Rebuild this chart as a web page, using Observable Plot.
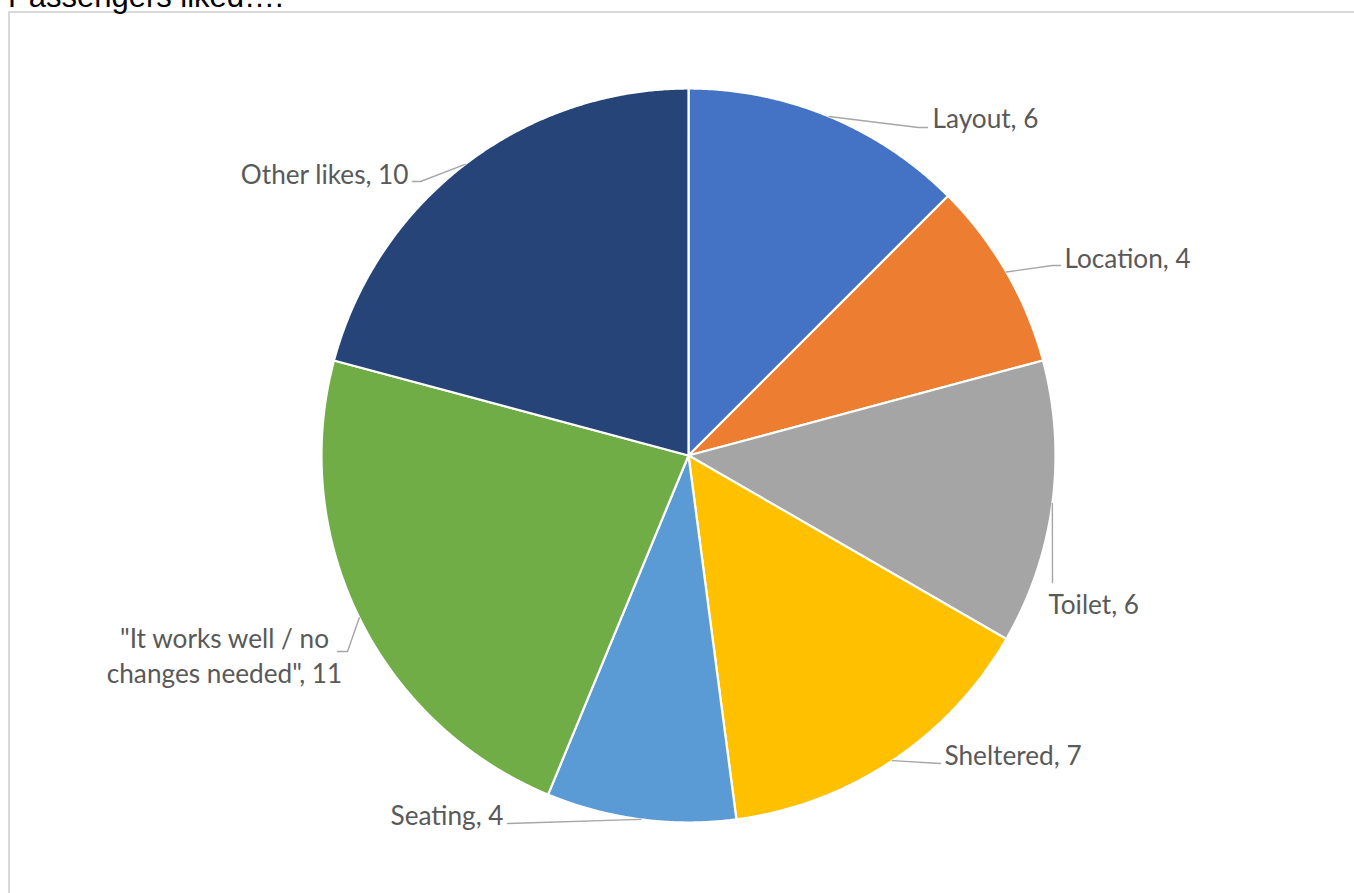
<!DOCTYPE html>
<html>
<head>
<meta charset="utf-8">
<script src="https://cdn.jsdelivr.net/npm/d3@7"></script>
<script src="https://cdn.jsdelivr.net/npm/@observablehq/plot@0.6"></script>
<style>
  html, body { margin: 0; padding: 0; background: #fff; overflow: hidden; }
  #wrap { position: relative; width: 1354px; height: 893px; overflow: hidden; }
  #frame { position: absolute; left: 8px; top: 11px; width: 1400px; height: 950px;
           border-left: 2px solid #d9d9d9; border-top: 2px solid #d9d9d9; box-sizing: border-box; }
  #title { position: absolute; left: 8px; top: -19px; font-family: "Liberation Sans", Arial, sans-serif;
           font-size: 31px; line-height: 31px; color: #000; white-space: nowrap; }
  #chart { position: absolute; left: 0; top: 0; }
</style>
</head>
<body>
<div id="wrap">
  <div id="frame"></div>
  <div id="title">Passengers liked….</div>
  <div id="chart"></div>
</div>
<script>
// ---- data ----
const categories = ["Layout", "Location", "Toilet", "Sheltered", "Seating", "\"It works well / no changes needed\"", "Other likes"];
const values = [6, 4, 6, 7, 4, 11, 10];
const labelTexts = ["Layout, 6", "Location, 4", "Toilet, 6", "Sheltered, 7", "Seating, 4", "\"It works well / no\nchanges needed\", 11", "Other likes, 10"];
const colors = ["#4472C4", "#ED7D31", "#A5A5A5", "#FFC000", "#5B9BD5", "#70AD47", "#264478"];

// ---- layout ----
const W = 1354, H = 893;
const cx = 688, cy = 455, R = 367;
// label placement (pixel layout, not data)
const labelLayout = [
  {leader: [[918, 127], [927, 127]], tx: 932, ty: 127, anchor: "start"},
  {leader: [[1052, 265], [1060, 265]], tx: 1064, ty: 267, anchor: "start"},
  {leader: [[1052, 582]], tx: 1048, ty: 613, anchor: "start"},
  {leader: [[940, 763]], tx: 944, ty: 764, anchor: "start"},
  {leader: [[507, 823]], tx: 503, ty: 824, anchor: "end"},
  {leader: [[347, 651], [337, 651]], tx: 224, ty: 682, anchor: "middle"},
  {leader: [[420, 181], [412, 181]], tx: 408, ty: 183, anchor: "end"}
];

const fontFamily = "Lato, 'Open Sans', sans-serif";
// size font so that label widths match the reference (~106px for "Layout, 6")
const ctx = document.createElement("canvas").getContext("2d");
ctx.font = `100px ${fontFamily}`;
const fontSize = Math.round(106 / ctx.measureText("Layout, 6").width * 100 * 10) / 10;

const pie = d3.pie().sort(null).value(d => d)(values);

const slicePts = [];
pie.forEach((p, i) => {
  slicePts.push({cat: categories[i], x: cx, y: cy});
  const n = Math.max(2, Math.ceil((p.endAngle - p.startAngle) / 0.005));
  for (let k = 0; k <= n; k++) {
    const a = p.startAngle + (p.endAngle - p.startAngle) * k / n;
    slicePts.push({cat: categories[i], x: cx + R * Math.sin(a), y: cy - R * Math.cos(a)});
  }
  slicePts.push({cat: categories[i], x: cx, y: cy});
});

const leaderPts = [];
pie.forEach((p, i) => {
  const a = (p.startAngle + p.endAngle) / 2;
  leaderPts.push({cat: categories[i], x: cx + R * Math.sin(a), y: cy - R * Math.cos(a)});
  labelLayout[i].leader.forEach(([x, y]) => leaderPts.push({cat: categories[i], x, y}));
});

const labels = labelTexts.map((t, i) => ({text: t, x: labelLayout[i].tx, y: labelLayout[i].ty, anchor: labelLayout[i].anchor}));

const chart = Plot.plot({
  width: W, height: H,
  margin: 0,
  x: {domain: [0, W], range: [0, W], axis: null},
  y: {domain: [0, H], range: [0, H], axis: null},
  color: {domain: categories, range: colors},
  style: {background: "transparent"},
  marks: [
    Plot.line(slicePts, {x: "x", y: "y", z: "cat", fill: "cat", stroke: "white", strokeWidth: 2.2, strokeLinejoin: "round", curve: "linear"}),
    Plot.line(leaderPts, {x: "x", y: "y", z: "cat", stroke: "#a6a6a6", strokeWidth: 1.4, curve: "linear"}),
    ...["start", "middle", "end"].map(anc =>
      Plot.text(labels.filter(d => d.anchor === anc), {x: "x", y: "y", text: "text", textAnchor: anc,
        lineAnchor: "bottom", lineHeight: 1.32, fontSize, fontFamily, fill: "#595959"}))
  ]
});
document.getElementById("chart").appendChild(chart);
</script>
</body>
</html>
